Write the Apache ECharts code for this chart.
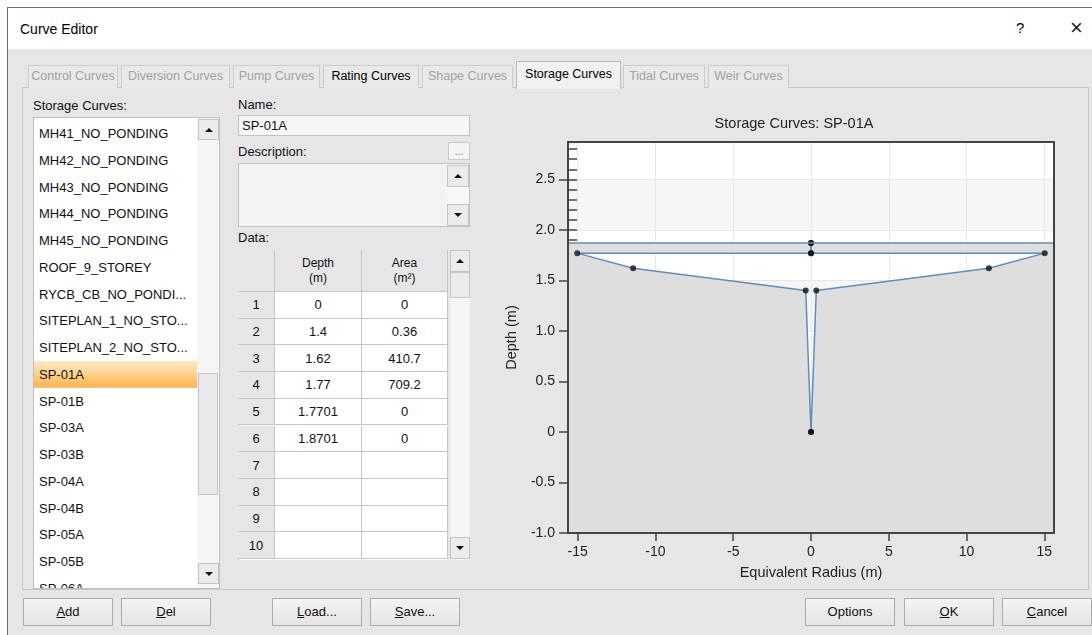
<!DOCTYPE html>
<html>
<head>
<meta charset="utf-8">
<title>Curve Editor</title>
<script src="https://cdn.jsdelivr.net/npm/echarts@6.0.0/dist/echarts.min.js"></script>
<style>
  html, body { margin: 0; padding: 0; }
  body {
    position: relative; width: 1092px; height: 635px; overflow: hidden; background: #fff;
    font-family: "Liberation Sans", Arial, sans-serif; font-size: 13px; color: #111;
  }
  div { box-sizing: border-box; }
  #chart { position: absolute; left: 478px; top: 92px; width: 608px; height: 494px; z-index: 5; }
</style>
</head>
<body>
<div id="chart"></div>
<script>
const curveNames = ['MH41_NO_PONDING', 'MH42_NO_PONDING', 'MH43_NO_PONDING', 'MH44_NO_PONDING',
  'MH45_NO_PONDING', 'ROOF_9_STOREY', 'RYCB_CB_NO_PONDI...', 'SITEPLAN_1_NO_STO...',
  'SITEPLAN_2_NO_STO...', 'SP-01A', 'SP-01B', 'SP-03A', 'SP-03B', 'SP-04A', 'SP-04B',
  'SP-05A', 'SP-05B', 'SP-06A']
const selectedCurve = 'SP-01A'
const tabNames = ['Control Curves', 'Diversion Curves', 'Pump Curves', 'Rating Curves',
  'Shape Curves', 'Storage Curves', 'Tidal Curves', 'Weir Curves']
const depths = [0, 1.4, 1.62, 1.77, 1.7701, 1.8701]   // m
const areas = [0, 0.36, 410.7, 709.2, 0, 0]           // m2
const xTicks = [-15, -10, -5, 0, 5, 10, 15]
const yTicks = [-1, -0.5, 0, 0.5, 1, 1.5, 2, 2.5]
const xLimit = 15.62
const yMin = -1
const yMax = 2.87

// ---- dialog chrome ----
function box(x, y, w, h, css, html) {
  const d = document.createElement('div')
  d.style.cssText = `position:absolute;left:${x}px;top:${y}px;width:${w}px;height:${h}px;` + (css || '')
  if (html != null) d.innerHTML = html
  document.body.appendChild(d)
  return d
}
function label(x, yc, text, css) {
  return box(x, yc - 8, 'auto', 16, 'width:auto;line-height:16px;white-space:nowrap;' + (css || ''), text)
}
function arrowBtn(x, y, w, h, up, parent) {
  const b = box(x, y, w, h, 'border:1px solid #c4c4c4;background:#ebebeb;')
  if (parent) parent.appendChild(b)
  const tri = document.createElement('div')
  tri.style.cssText = `position:absolute;left:${Math.round((w - 2) / 2 - 4)}px;top:${Math.round((h - 2) / 2 - 2)}px;width:0;height:0;` +
    'border-left:4px solid transparent;border-right:4px solid transparent;' +
    (up ? 'border-bottom:4px solid #111;' : 'border-top:4px solid #111;')
  b.appendChild(tri)
  return b
}

// window + title bar
box(7, 7, 1085, 628, 'background:#e6e6e6;border-left:1px solid #6c6c6c;border-top:1px solid #6c6c6c;')
box(8, 8, 1084, 41, 'background:#fff;')
label(20, 29, 'Curve Editor', 'font-size:14px;color:#000;')
label(1016, 28, '?', 'font-size:15px;color:#000;')
label(1070, 28, '×', 'font-size:22px;color:#222;')

// tab page and tabs
box(22, 87, 1067, 503, 'border:1px solid #c6c6c6;background:#e6e6e6;')
const tabEdges = [[28, 118], [121, 230], [233, 320], [323, 419], [422, 513], [516, 621], [623, 705], [708, 789]]
tabNames.forEach((name, i) => {
  const [l, r] = tabEdges[i]
  const on = name === 'Storage Curves'
  const enabled = on || name === 'Rating Curves'
  box(l, on ? 61 : 65, r - l, on ? 28 : 23,
    `border:1px solid ${on ? '#bcbcbc' : '#cdcdcd'};border-bottom:none;background:${on ? '#f1f1f1' : '#e9e9e9'};` +
    `color:${enabled ? '#000' : '#a2a2a2'};font-size:12.5px;text-align:center;line-height:${on ? 25 : 21}px;white-space:nowrap;`, name)
})

// curve list
label(33, 106, 'Storage Curves:')
const list = box(33, 117, 187, 472, 'background:#fff;border:1px solid #bfbfbf;overflow:hidden;')
curveNames.forEach((name, i) => {
  const sel = name === selectedCurve
  const it = box(0, 2 + i * 26.75, 163, 26.75,
    'padding-left:5px;line-height:27px;white-space:nowrap;color:#111;' +
    (sel ? 'background:linear-gradient(#fee8c2 0%,#fdd493 45%,#fbb74f 92%,#f3c27a 100%);' : ''), name)
  list.appendChild(it)
})
const track = box(163, 0, 23, 470, 'background:#f5f5f5;')
list.appendChild(track)
arrowBtn(164, 1, 21, 21, true, list)
const thumb = box(164, 255, 20, 122, 'border:1px solid #c6c6c6;background:#e9e9e9;')
list.appendChild(thumb)
arrowBtn(164, 445, 21, 21, false, list)

// name / description
label(238, 105, 'Name:')
box(238, 115, 232, 21, 'background:#f6f6f6;border:1px solid #c3c3c3;padding-left:3px;line-height:19px;', selectedCurve)
label(238, 152, 'Description:')
box(448, 142, 22, 18, 'background:#f4f4f4;border:1px solid #cacaca;text-align:center;line-height:18px;font-size:10px;color:#666;', '...')
box(238, 163, 232, 64, 'background:#f3f3f3;border:1px solid #c3c3c3;')
box(447, 164, 22, 62, 'background:#f7f7f7;')
arrowBtn(447, 165, 22, 22, true)
arrowBtn(447, 204, 22, 22, false)

// data table
label(238, 238, 'Data:')
const colX = [238, 275, 362, 448]
const rowY = [250, 292]
for (let k = 1; k <= 10; k++) rowY.push(292 + k * 26.7)
box(238, 250, 210, 310, 'border-left:1px solid #c6c6c6;border-top:1px solid #c6c6c6;background:#fff;')
const headers = ['', 'Depth<br>(m)', 'Area<br>(m²)']
for (let r = 0; r < rowY.length - 1; r++) {
  for (let c = 0; c < 3; c++) {
    const gray = r === 0 || c === 0
    let txt = ''
    if (r === 0) txt = headers[c]
    else if (c === 0) txt = String(r)
    else if (r - 1 < depths.length) txt = String(c === 1 ? depths[r - 1] : areas[r - 1])
    const y0 = rowY[r], y1 = rowY[r + 1]
    box(colX[c], y0, colX[c + 1] - colX[c], y1 - y0,
      `border-right:1px solid #c6c6c6;border-bottom:1px solid #c6c6c6;background:${gray ? '#e6e6e6' : '#fff'};` +
      'text-align:center;display:flex;align-items:center;justify-content:center;' +
      (r === 0 ? 'font-size:12px;line-height:15px;padding-top:1px;' : 'font-size:13px;'), txt)
  }
}
box(450, 250, 20, 310, 'background:#f5f5f5;')
arrowBtn(450, 250, 20, 22, true)
box(450, 272, 20, 26, 'border:1px solid #c6c6c6;background:#ebebeb;')
arrowBtn(450, 537, 20, 22, false)

// buttons
const buttons = [['<u>A</u>dd', 23, 113], ['<u>D</u>el', 121, 211], ['<u>L</u>oad...', 272, 362],
  ['<u>S</u>ave...', 370, 460], ['Options', 805, 895], ['<u>O</u>K', 904, 994], ['<u>C</u>ancel', 1002, 1092]]
buttons.forEach(([t, l, r]) => {
  box(l, 598, r - l, 28, 'border:1px solid #acacac;background:linear-gradient(#f4f4f4,#e4e4e4);text-align:center;line-height:26px;color:#111;', t)
})

// ---- chart ----
const radii = areas.map(a => Math.sqrt(a / Math.PI))
const rightSide = depths.map((d, i) => [radii[i], d])
const leftSide = depths.map((d, i) => [-radii[i], d])
const topDepth = Math.max(...depths)

const lineColor = '#5b8ebf'
const frameColor = '#444'
const fontFamily = '"Liberation Sans", Arial, sans-serif'

const chart = echarts.init(document.getElementById('chart'), null, { renderer: 'canvas' })
chart.setOption({
  animation: false,
  title: {
    text: 'Storage Curves: ' + selectedCurve,
    left: 316,
    top: 24,
    textAlign: 'center',
    padding: 0,
    textStyle: { fontSize: 14.5, fontWeight: 'normal', color: '#222', fontFamily }
  },
  grid: {
    left: 90, top: 50, right: 32, bottom: 53,
    show: true, backgroundColor: '#ffffff', borderWidth: 0
  },
  xAxis: [
    {
      // grid lines only
      type: 'value', min: -xLimit, max: xLimit, position: 'bottom', z: 0,
      axisLine: { show: false, onZero: false },
      axisTick: { show: false, customValues: xTicks },
      axisLabel: { show: false, customValues: xTicks },
      splitLine: { show: true, lineStyle: { color: '#e8e8e8', width: 1 } }
    },
    {
      type: 'value', min: -xLimit, max: xLimit, position: 'bottom', z: 5,
      axisLine: { show: true, onZero: false, lineStyle: { color: frameColor, width: 2 } },
      axisTick: { show: true, length: 8, customValues: xTicks, lineStyle: { color: frameColor, width: 1.5 } },
      axisLabel: { customValues: xTicks, margin: 12, fontSize: 14, color: '#222', fontFamily },
      splitLine: { show: false },
      name: 'Equivalent Radius (m)',
      nameLocation: 'middle',
      nameGap: 32,
      nameTextStyle: { fontSize: 14.5, color: '#222', fontFamily }
    },
    {
      type: 'value', min: -xLimit, max: xLimit, position: 'top', z: 5,
      axisLine: { show: true, onZero: false, lineStyle: { color: frameColor, width: 2 } },
      axisTick: { show: false }, axisLabel: { show: false }, splitLine: { show: false }
    }
  ],
  yAxis: [
    {
      // grid lines + bands
      type: 'value', min: yMin, max: yMax, interval: 0.5, position: 'left', z: 0,
      axisLine: { show: false, onZero: false }, axisTick: { show: false }, axisLabel: { show: false },
      splitLine: { show: true, lineStyle: { color: '#e8e8e8', width: 1 } },
      splitArea: { show: true, areaStyle: { color: ['#f6f6f6', '#ffffff'] } }
    },
    {
      // small inside ticks, hidden under the ground fill below the top line
      type: 'value', min: yMin, max: yMax, interval: 0.1, position: 'left', z: 1,
      axisLine: { show: false, onZero: false },
      axisTick: { show: true, inside: true, length: 9, lineStyle: { color: '#444', width: 1.5 } },
      axisLabel: { show: false }, splitLine: { show: false }
    },
    {
      type: 'value', min: yMin, max: yMax, position: 'left', z: 5,
      axisLine: { show: true, onZero: false, lineStyle: { color: frameColor, width: 2 } },
      axisTick: { show: true, length: 9, customValues: yTicks, lineStyle: { color: frameColor, width: 1.5 } },
      axisLabel: {
        customValues: yTicks, margin: 13, fontSize: 14, color: '#222', fontFamily,
        formatter: v => (v === 0 ? '0' : v.toFixed(1))
      },
      splitLine: { show: false },
      name: 'Depth (m)',
      nameLocation: 'middle',
      nameGap: 49,
      nameTextStyle: { fontSize: 14.5, color: '#222', fontFamily }
    },
    {
      type: 'value', min: yMin, max: yMax, position: 'right', z: 5,
      axisLine: { show: true, onZero: false, lineStyle: { color: frameColor, width: 2 } },
      axisTick: { show: false }, axisLabel: { show: false }, splitLine: { show: false }
    }
  ],
  series: [
    {
      // gray ground around the storage shape
      type: 'custom',
      xAxisIndex: 0,
      yAxisIndex: 0,
      z: 2,
      silent: true,
      data: [[0, 0]],
      renderItem(params, api) {
        const outer = [[0, topDepth], [xLimit, topDepth], [xLimit, yMin], [-xLimit, yMin], [-xLimit, topDepth]]
        const hole = leftSide.slice().reverse().concat(rightSide)
        const pts = outer.concat(hole).map(p => api.coord(p))
        return { type: 'polygon', shape: { points: pts }, style: { fill: '#dedede', stroke: null } }
      }
    },
    {
      type: 'line', xAxisIndex: 0, yAxisIndex: 0, z: 3,
      data: rightSide, showSymbol: false,
      lineStyle: { color: lineColor, width: 1.5 },
      markLine: {
        silent: true, symbol: 'none', label: { show: false },
        lineStyle: { color: lineColor, width: 1.5, type: 'solid' },
        data: [{ yAxis: topDepth }]
      }
    },
    {
      type: 'line', xAxisIndex: 0, yAxisIndex: 0, z: 3,
      data: leftSide, showSymbol: false,
      lineStyle: { color: lineColor, width: 1.5 }
    },
    {
      type: 'scatter', xAxisIndex: 0, yAxisIndex: 0, z: 4,
      data: rightSide.concat(leftSide),
      symbolSize: 6,
      itemStyle: { color: '#111' }
    }
  ]
})
</script>
</body>
</html>
